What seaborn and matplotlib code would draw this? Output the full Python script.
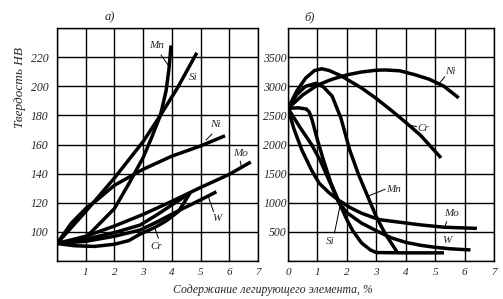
import numpy as np
import pandas as pd
import matplotlib
matplotlib.use("Agg")
import matplotlib.pyplot as plt
import seaborn as sns

# ---------------- data: panel a) hardness HB ----------------
a_Mn_x = [0, 1, 2, 2.5, 3.0, 3.3, 3.6, 3.8, 3.9, 3.97]
a_Mn_y = [92, 96, 116, 133, 151, 165, 180, 197, 212, 228]
a_Si_x = [0, 1, 2, 3, 3.6, 4.2, 4.87]
a_Si_y = [92, 114, 137, 162, 180, 199, 223]
a_Ni_x = [0, 0.5, 1, 1.4, 2, 3, 4, 5, 5.85]
a_Ni_y = [92, 106, 116, 122, 132, 143, 152, 159, 166]
a_Mo_x = [0, 1, 2, 3, 4, 5, 6, 6.75]
a_Mo_y = [92, 97, 104, 112, 121, 130.5, 139.5, 148]
a_X_x = [0, 1, 2, 2.9, 3.5, 4, 4.63]
a_X_y = [92, 95, 99.5, 104.7, 112, 118.5, 126.5]
a_W_x = [0, 1, 2, 2.9, 3.5, 4.23, 5, 5.55]
a_W_y = [92, 93.5, 97, 101.3, 107, 114.5, 122, 127.5]
a_Cr_x = [0, 0.6, 1.3, 2, 2.5, 2.9, 3.4, 3.8, 4.23, 4.63]
a_Cr_y = [92, 90.5, 90, 91.5, 94, 98.5, 103, 107.5, 114, 126.5]

# ---------------- data: panel б) ----------------
b_Ni_x = [0, 0.5, 1, 1.5, 2, 2.5, 3, 3.3, 3.8, 4.3, 4.8, 5.3, 5.8]
b_Ni_y = [2620, 2850, 3020, 3120, 3195, 3245, 3275, 3280, 3265, 3200, 3120, 3000, 2800]
b_Cr_x = [0, 0.3, 0.6, 0.9, 1.15, 1.4, 1.8, 2.5, 3, 3.5, 4, 4.5, 5.2]
b_Cr_y = [2620, 2920, 3140, 3270, 3300, 3270, 3180, 2970, 2790, 2590, 2380, 2160, 1770]
b_Mn_x = [0, 0.3, 0.6, 0.95, 1.2, 1.5, 1.8, 2.1, 2.4, 2.7, 3.0, 3.3, 3.7]
b_Mn_y = [2620, 2860, 3000, 3050, 2990, 2830, 2450, 1900, 1480, 1120, 760, 470, 160]
b_Si_x = [0, 0.35, 0.62, 0.72, 0.82, 1.0, 1.2, 1.45, 1.75, 2.0, 2.2, 2.5, 2.8, 3.0, 4.0, 5.3]
b_Si_y = [2620, 2630, 2610, 2560, 2420, 2080, 1740, 1350, 990, 710, 520, 310, 190, 145, 140, 140]
b_Mo_x = [0, 0.2, 0.47, 0.8, 1.06, 1.4, 1.71, 2.1, 2.5, 3.1, 3.65, 4.5, 5.3, 6.42]
b_Mo_y = [2620, 2270, 1906, 1560, 1334, 1170, 1047, 920, 820, 710, 675, 620, 580, 560]
b_W_x = [0, 0.4, 0.8, 1.1, 1.4, 1.71, 2.0, 2.5, 3.0, 3.5, 4.0, 4.5, 5.0, 5.5, 6.2]
b_W_y = [2620, 2300, 2000, 1720, 1380, 1020, 830, 650, 520, 400, 320, 270, 235, 210, 190]

a_yticks = [100, 120, 140, 160, 180, 200, 220]
a_xticks = [1, 2, 3, 4, 5, 6, 7]
b_yticks = [500, 1000, 1500, 2000, 2500, 3000, 3500]
b_xticks = [0, 1, 2, 3, 4, 5, 6, 7]

sns.set_style("white")
FONT = ["Liberation Serif", "DejaVu Serif"]
plt.rcParams["font.family"] = FONT
plt.rcParams["font.style"] = "italic"

W, H = 503, 299
fig = plt.figure(figsize=(W / 100, H / 100), dpi=100)
axA = fig.add_axes([57 / W, 38 / H, 201 / W, 233 / H])
axB = fig.add_axes([288 / W, 38 / H, 206 / W, 233 / H])

LW = 2.5
GRID_LW = 1.0

def draw(ax, curves):
    rows = []
    for name, xs, ys in curves:
        for i, (x, y) in enumerate(zip(xs, ys)):
            rows.append({"name": name, "x": x, "y": y, "i": i})
    df = pd.DataFrame(rows)
    for name, _, _ in curves:
        sub = df[df["name"] == name]
        sns.lineplot(data=sub, x="x", y="y", ax=ax, color="black", lw=LW,
                     estimator=None, sort=False, legend=False,
                     solid_joinstyle="round", solid_capstyle="butt")

draw(axA, [("Mn", a_Mn_x, a_Mn_y), ("Si", a_Si_x, a_Si_y), ("Ni", a_Ni_x, a_Ni_y),
           ("Mo", a_Mo_x, a_Mo_y), ("X", a_X_x, a_X_y), ("W", a_W_x, a_W_y),
           ("Cr", a_Cr_x, a_Cr_y)])
draw(axB, [("Ni", b_Ni_x, b_Ni_y), ("Cr", b_Cr_x, b_Cr_y), ("Mn", b_Mn_x, b_Mn_y),
           ("Si", b_Si_x, b_Si_y), ("Mo", b_Mo_x, b_Mo_y), ("W", b_W_x, b_W_y)])

axA.set_xlim(0, 7); axA.set_ylim(80, 240)
axB.set_xlim(0, 7); axB.set_ylim(0, 4000)

for ax in (axA, axB):
    ax.set_xlabel(""); ax.set_ylabel("")
    for s in ax.spines.values():
        s.set_visible(True); s.set_color("black"); s.set_linewidth(GRID_LW)
    ax.tick_params(length=0, labelsize=8)

axA.set_xticks(range(0, 8))
axA.set_yticks(range(80, 241, 20))
axB.set_xticks(range(0, 8))
axB.set_yticks(range(0, 4001, 500))
for ax in (axA, axB):
    ax.grid(True, color="black", lw=GRID_LW)
    ax.set_axisbelow(True)

axA.set_xticklabels(["" if t not in a_xticks else str(t) for t in range(0, 8)])
axA.set_yticklabels(["" if t not in a_yticks else str(t) for t in range(80, 241, 20)])
axB.set_xticklabels([str(t) if t in b_xticks else "" for t in range(0, 8)])
axB.set_yticklabels([str(t) if t in b_yticks else "" for t in range(0, 4001, 500)])
axA.tick_params(axis="y", pad=6, labelsize=8.5)
axA.tick_params(axis="x", pad=5)
axB.tick_params(axis="y", pad=1, labelsize=8.5)
axB.tick_params(axis="x", pad=5)

LS = 8
def lab(ax, x, y, t, leader=None):
    ax.text(x, y, t, fontsize=LS, ha="center", va="center", style="italic")
    if leader:
        (x1, y1), (x2, y2) = leader
        ax.plot([x1, x2], [y1, y2], color="black", lw=0.7)

lab(axA, 3.48, 228.3, "Mn", ((3.62, 221.5), (3.87, 214.6)))
lab(axA, 4.74, 205.7, "Si")
lab(axA, 5.5, 173.4, "Ni", ((5.4, 167.2), (5.19, 163.1)))
lab(axA, 6.38, 153.5, "Mo", ((6.38, 148.6), (6.42, 145.0)))
lab(axA, 5.56, 109.3, "W", ((5.45, 113.9), (5.27, 124.2)))
lab(axA, 3.47, 89.8, "Cr", ((3.53, 95.6), (3.41, 102.6)))

lab(axB, 5.5, 3250, "Ni", ((5.33, 3164), (5.16, 3061)))
lab(axB, 4.6, 2278, "Cr", ((4.37, 2306), (4.15, 2330)))
lab(axB, 3.58, 1219, "Mn", ((3.3, 1231), (2.7, 1110)))
lab(axB, 5.56, 819, "Mo", ((5.39, 675), (5.33, 590)))
lab(axB, 5.39, 349, "W", ((5.28, 245), (5.22, 215)))
lab(axB, 1.43, 331, "Si", ((1.58, 480), (1.76, 930)))

fig.text(110 / W, 1 - 17 / H, "а)", fontsize=9, ha="center", va="center")
fig.text(310 / W, 1 - 17 / H, "б)", fontsize=9, ha="center", va="center")
fig.text(20 / W, 1 - 88 / H, "Твердость НВ", rotation=90, fontsize=9.5,
         ha="center", va="center")
fig.text(273 / W, 1 - 290 / H, "Содержание легирующего элемента, %", fontsize=8.5,
         ha="center", va="center")

fig.savefig("out.png", dpi=100)
